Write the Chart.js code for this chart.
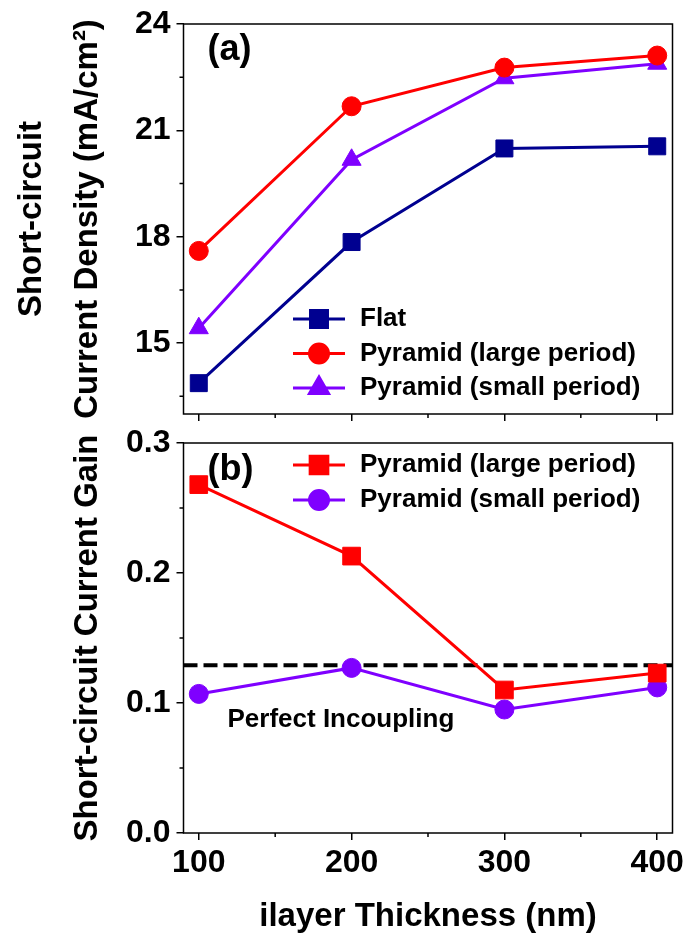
<!DOCTYPE html>
<html><head><meta charset="utf-8">
<script src="https://cdn.jsdelivr.net/npm/chart.js@4.4.0/dist/chart.umd.min.js"></script>
<style>
html,body{margin:0;padding:0;background:#fff;width:689px;height:935px;overflow:hidden;}
#ca{position:absolute;left:0;top:0;}
#cb{position:absolute;left:0;top:415px;}
</style></head><body>
<canvas id="ca" width="689" height="430"></canvas>
<canvas id="cb" width="689" height="520"></canvas>
<script>
// ---- data ----
const thickness = [100, 200, 300, 400];
const xTicks = [100, 200, 300, 400];
const xMinorTicks = [150, 250, 350];
const xAxisMin = 90, xAxisMax = 410;

const jscFlat  = [13.87, 17.85, 20.49, 20.55];
const jscLarge = [17.60, 21.68, 22.77, 23.11];
const jscSmall = [15.42, 20.17, 22.47, 22.88];
const jscTicks = [15, 18, 21, 24];
const jscMinorTicks = [13.5, 16.5, 19.5, 22.5];
const jscAxisMin = 13, jscAxisMax = 24;

const gainLarge = [0.268, 0.213, 0.110, 0.123];
const gainSmall = [0.107, 0.127, 0.095, 0.112];
const gainTicks = [0, 0.1, 0.2, 0.3];
const gainMinorTicks = [0.05, 0.15, 0.25];
const gainAxisMin = 0, gainAxisMax = 0.3;
const perfectIncoupling = 0.129;

const seriesNames = {
  flat: 'Flat',
  large: 'Pyramid (large period)',
  small: 'Pyramid (small period)'
};
const titles = {
  jsc: ['Short-circuit', 'Current Density (mA/cm\u00B2)'],
  gain: 'Short-circuit Current Gain',
  x: 'ilayer Thickness (nm)',
  annotation: 'Perfect Incoupling'
};

// ---- styles ----
const FONT = "'Liberation Sans', Arial, Helvetica, sans-serif";
const NAVY = '#000090', RED = '#ff0000', PURPLE = '#7f00ff';
Chart.defaults.font.family = FONT;
Chart.defaults.font.weight = 'bold';
Chart.defaults.color = '#000';

const pts = (xs, ys) => xs.map((x, i) => ({x: x, y: ys[i]}));

const decor = {
  id: 'decor',
  beforeDatasetsDraw(chart, args, o) {
    const {ctx, chartArea: a} = chart;
    const xs = chart.scales.x, ys = chart.scales.y;
    ctx.save();
    ctx.strokeStyle = '#000';
    ctx.lineWidth = 1.5;
    ctx.strokeRect(a.left, a.top, a.right - a.left, a.bottom - a.top);
    ctx.beginPath();
    o.xMinor.forEach(v => { const p = xs.getPixelForValue(v); ctx.moveTo(p, a.bottom); ctx.lineTo(p, a.bottom + 4); });
    o.yMinor.forEach(v => { const p = ys.getPixelForValue(v); ctx.moveTo(a.left, p); ctx.lineTo(a.left - 4, p); });
    ctx.stroke();
    ctx.restore();
  },
  afterDatasetsDraw(chart, args, o) {
    const {ctx, chartArea: a} = chart;
    ctx.save();
    // legend
    let row = 0;
    chart.data.datasets.forEach(ds => {
      if (ds.hideInLegend) return;
      const y = a.top + o.legendTop + row * o.legendStep;
      const x0 = a.left + o.legendDx;
      ctx.strokeStyle = ds.borderColor;
      ctx.lineWidth = ds.borderWidth;
      ctx.setLineDash([]);
      ctx.beginPath();
      ctx.moveTo(x0, y); ctx.lineTo(x0 + o.legendLine, y);
      ctx.stroke();
      ctx.fillStyle = ds.pointBackgroundColor;
      ctx.strokeStyle = ds.pointBackgroundColor;
      Chart.helpers.drawPoint(ctx, {pointStyle: ds.pointStyle, radius: ds.pointRadius, borderWidth: 1, rotation: 0}, x0 + o.legendLine / 2, y);
      ctx.fillStyle = '#000';
      ctx.font = 'bold 26px ' + FONT;
      ctx.textAlign = 'left';
      ctx.textBaseline = 'middle';
      ctx.fillText(ds.label, a.left + o.legendTextDx, y);
      row++;
    });
    // panel label
    ctx.fillStyle = '#000';
    ctx.font = 'bold 36px ' + FONT;
    ctx.textAlign = 'left';
    ctx.textBaseline = 'alphabetic';
    ctx.fillText(o.panel, a.left + 24, a.top + o.panelBaseline);
    // annotation
    if (o.annotation) {
      ctx.font = 'bold 26px ' + FONT;
      const yp = chart.scales.y.getPixelForValue(perfectIncoupling);
      ctx.fillText(o.annotation, a.left + 44, yp + 62);
    }
    ctx.restore();
  }
};

function xScale(showLabels, height) {
  return {
    type: 'linear', min: xAxisMin, max: xAxisMax,
    afterBuildTicks: s => { s.ticks = xTicks.map(v => ({value: v})); },
    afterFit: s => { s.height = height; s.paddingLeft = 0; s.paddingRight = 0; },
    grid: {display: true, drawOnChartArea: false, drawTicks: true, tickLength: 7, color: '#000', lineWidth: 1.5},
    border: {display: false},
    ticks: {display: showLabels, padding: 4, font: {size: 32, weight: 'bold'}, color: '#000', maxRotation: 0,
            callback: v => String(v)},
    title: showLabels ? {display: true, text: titles.x, font: {size: 33, weight: 'bold', lineHeight: 1.1}, color: '#000', padding: {top: 0, bottom: 0}} : {display: false}
  };
}
function yScale(min, max, ticks, title, titleLH, titlePadTop, fmt) {
  return {
    type: 'linear', min: min, max: max,
    afterBuildTicks: s => { s.ticks = ticks.map(v => ({value: v})); },
    afterFit: s => { s.width = 183.5; s.paddingTop = 0; s.paddingBottom = 0; },
    grid: {display: true, drawOnChartArea: false, drawTicks: true, tickLength: 7, color: '#000', lineWidth: 1.5},
    border: {display: false},
    ticks: {padding: 6, font: {size: 32, weight: 'bold'}, color: '#000', callback: fmt},
    title: {display: true, text: title, font: {size: 33, weight: 'bold', lineHeight: titleLH}, color: '#000', padding: {top: titlePadTop, bottom: 0}}
  };
}

const common = {
  responsive: false, animation: false, devicePixelRatio: 1,
  events: [],
  plugins: {legend: {display: false}, tooltip: {enabled: false}}
};

new Chart(document.getElementById('ca'), {
  type: 'line',
  data: {datasets: [
    {label: seriesNames.flat, data: pts(thickness, jscFlat), borderColor: NAVY, backgroundColor: NAVY, borderWidth: 3,
     pointStyle: 'rect', pointRadius: 12, pointBackgroundColor: NAVY, pointBorderColor: NAVY, pointBorderWidth: 1},
    {label: seriesNames.large, data: pts(thickness, jscLarge), borderColor: RED, backgroundColor: RED, borderWidth: 3,
     pointStyle: 'circle', pointRadius: 9.5, pointBackgroundColor: RED, pointBorderColor: RED, pointBorderWidth: 1},
    {label: seriesNames.small, data: pts(thickness, jscSmall), borderColor: PURPLE, backgroundColor: PURPLE, borderWidth: 3,
     pointStyle: 'triangle', pointRadius: 11, pointBackgroundColor: PURPLE, pointBorderColor: PURPLE, pointBorderWidth: 1}
  ]},
  options: Object.assign({}, common, {
    layout: {padding: {top: 24, right: 16.5, bottom: 0, left: 0}},
    scales: {
      x: xScale(false, 16),
      y: yScale(jscAxisMin, jscAxisMax, jscTicks, titles.jsc, 1.7, 4, v => String(v))
    },
    plugins: Object.assign({}, common.plugins, {
      decor: {xMinor: xMinorTicks, yMinor: jscMinorTicks, legendTop: 295, legendStep: 34.5, legendDx: 109.5,
              legendLine: 52, legendTextDx: 176.5, panel: '(a)', panelBaseline: 36}
    })
  }),
  plugins: [decor]
});

new Chart(document.getElementById('cb'), {
  type: 'line',
  data: {datasets: [
    {label: seriesNames.large, data: pts(thickness, gainLarge), borderColor: RED, backgroundColor: RED, borderWidth: 3,
     pointStyle: 'rect', pointRadius: 12.5, pointBackgroundColor: RED, pointBorderColor: RED, pointBorderWidth: 1},
    {label: seriesNames.small, data: pts(thickness, gainSmall), borderColor: PURPLE, backgroundColor: PURPLE, borderWidth: 3,
     pointStyle: 'circle', pointRadius: 9.5, pointBackgroundColor: PURPLE, pointBorderColor: PURPLE, pointBorderWidth: 1},
    {label: titles.annotation, hideInLegend: true, data: [{x: xAxisMin, y: perfectIncoupling}, {x: xAxisMax, y: perfectIncoupling}],
     borderColor: '#000', borderWidth: 4, borderDash: [14, 6], pointRadius: 0, order: 5}
  ]},
  options: Object.assign({}, common, {
    layout: {padding: {top: 28, right: 16.5, bottom: 0, left: 0}},
    scales: {
      x: xScale(true, 102),
      y: yScale(gainAxisMin, gainAxisMax, gainTicks, titles.gain, 1.2, 68, v => v.toFixed(1))
    },
    plugins: Object.assign({}, common.plugins, {
      decor: {xMinor: xMinorTicks, yMinor: gainMinorTicks, legendTop: 22, legendStep: 35, legendDx: 109.5,
              legendLine: 52, legendTextDx: 176.5, panel: '(b)', panelBaseline: 37, annotation: titles.annotation}
    })
  }),
  plugins: [decor]
});
</script>
</body></html>
